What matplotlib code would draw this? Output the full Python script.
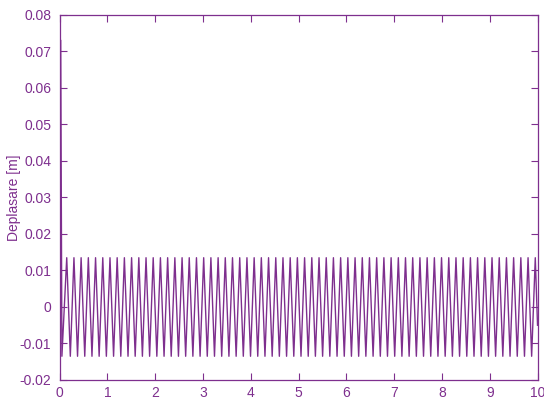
import numpy as np
import matplotlib
matplotlib.use("Agg")
import matplotlib.pyplot as plt

purple = "#7E2F8E"

# starting displacement and end of record
t_start, x_start = 0.025, 0.073
t_end, x_end = 10.0, -0.005

# oscillation amplitude [m]
amp = 0.0135

# times of the maxima [s]
t_max = [
    0.151, 0.302, 0.452, 0.603, 0.754, 0.905, 1.056, 1.206, 1.357, 1.508,
    1.659, 1.810, 1.960, 2.111, 2.262, 2.413, 2.564, 2.714, 2.865, 3.016,
    3.167, 3.318, 3.468, 3.619, 3.770, 3.921, 4.072, 4.222, 4.373, 4.524,
    4.675, 4.826, 4.976, 5.127, 5.278, 5.429, 5.580, 5.730, 5.881, 6.032,
    6.183, 6.334, 6.484, 6.635, 6.786, 6.937, 7.088, 7.238, 7.389, 7.540,
    7.691, 7.842, 7.992, 8.143, 8.294, 8.445, 8.596, 8.746, 8.897, 9.048,
    9.199, 9.350, 9.500, 9.651, 9.802, 9.953,
]

# times of the minima [s]
t_min = [
    0.050, 0.226, 0.377, 0.528, 0.679, 0.829, 0.980, 1.131, 1.282, 1.433,
    1.583, 1.734, 1.885, 2.036, 2.187, 2.337, 2.488, 2.639, 2.790, 2.941,
    3.091, 3.242, 3.393, 3.544, 3.695, 3.845, 3.996, 4.147, 4.298, 4.449,
    4.599, 4.750, 4.901, 5.052, 5.203, 5.353, 5.504, 5.655, 5.806, 5.957,
    6.107, 6.258, 6.409, 6.560, 6.711, 6.861, 7.012, 7.163, 7.314, 7.465,
    7.615, 7.766, 7.917, 8.068, 8.219, 8.369, 8.520, 8.671, 8.822, 8.973,
    9.123, 9.274, 9.425, 9.576, 9.727, 9.877,
]

x_ticks = list(range(0, 11))
y_ticks = [-0.02, -0.01, 0, 0.01, 0.02, 0.03, 0.04, 0.05, 0.06, 0.07, 0.08]
y_tick_labels = ["-0.02", "-0.01", "0", "0.01", "0.02", "0.03", "0.04",
                 "0.05", "0.06", "0.07", "0.08"]

# build the time series: start, alternating minima/maxima, end
t = [t_start]
x = [x_start]
for tmin, tmax in zip(t_min, t_max):
    t += [tmin, tmax]
    x += [-amp, amp]
t.append(t_end)
x.append(x_end)

plt.rcParams['font.family'] = ['Liberation Sans', 'DejaVu Sans']
plt.rcParams['font.size'] = 10

fig = plt.figure(figsize=(5.44, 4.03), dpi=100)
ax = fig.add_axes([0.1094, 0.0571, 0.8787, 0.9057])

ax.plot(t, x, color=purple, linewidth=1.0)

ax.set_xlim(0, 10)
ax.set_ylim(-0.02, 0.08)
ax.set_xticks(x_ticks)
ax.set_yticks(y_ticks)
ax.set_yticklabels(y_tick_labels)

ax.tick_params(direction='in', top=True, right=True, length=5, width=0.8,
               colors=purple, labelsize=10)
ax.tick_params(axis='y', pad=6)
ax.tick_params(axis='x', pad=4)
for sp in ax.spines.values():
    sp.set_color(purple)
    sp.set_linewidth(0.9)

ax.set_ylabel("Deplasare [m]", color=purple, fontsize=10)
ax.yaxis.set_label_coords(-0.08, 0.5)

fig.savefig("out.png", dpi=100)
